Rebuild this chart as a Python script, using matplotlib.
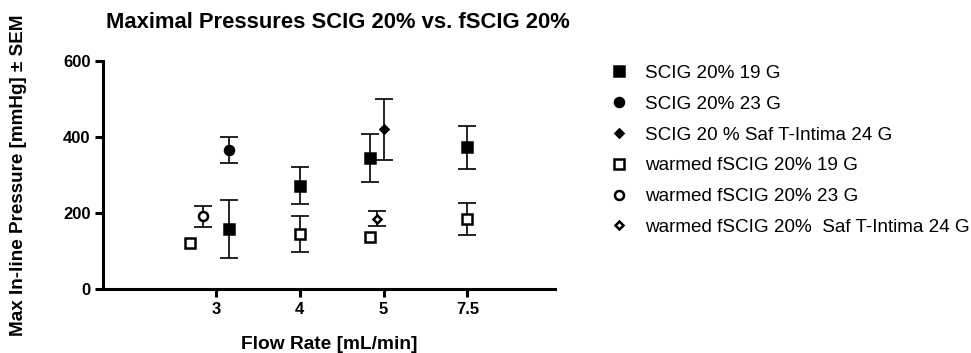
import numpy as np
import matplotlib
matplotlib.use("Agg")
import matplotlib.pyplot as plt
from matplotlib.lines import Line2D

plt.rcParams['font.family'] = ['Liberation Sans', 'DejaVu Sans']

# ---- data ----
categories = ["3", "4", "5", "7.5"]
nan = np.nan

scig19_mean = [159, 272, 345, 373]
scig19_sem = [76, 48, 63, 56]
scig23_mean = [366, nan, nan, nan]
scig23_sem = [33, nan, nan, nan]
scig24_mean = [nan, nan, 420, nan]
scig24_sem = [nan, nan, 80, nan]
fscig19_mean = [123, 145, 137, 185]
fscig19_sem = [0, 47, 0, 42]
fscig23_mean = [192, nan, nan, nan]
fscig23_sem = [27, nan, nan, nan]
fscig24_mean = [nan, nan, 186, nan]
fscig24_sem = [nan, nan, 20, nan]

labels = ["SCIG 20% 19 G", "SCIG 20% 23 G", "SCIG 20 % Saf T-Intima 24 G",
          "warmed fSCIG 20% 19 G", "warmed fSCIG 20% 23 G",
          "warmed fSCIG 20%  Saf T-Intima 24 G"]

# ---- layout / style (dodge offsets per category, in category units) ----
dodge = [
    [0.16, 0.0, -0.16, 0.0],
    [0.16, 0.0, 0.0, 0.0],
    [0.0, 0.0, 0.0, 0.0],
    [-0.31, 0.0, -0.16, 0.0],
    [-0.15, 0.0, 0.0, 0.0],
    [0.0, 0.0, -0.08, 0.0],
]
styles = [
    dict(marker='s', mfc='black', ms=6.5),
    dict(marker='o', mfc='black', ms=6.5),
    dict(marker='D', mfc='black', ms=4.5),
    dict(marker='s', mfc='white', ms=6.5),
    dict(marker='o', mfc='white', ms=6.5),
    dict(marker='D', mfc='white', ms=4.5),
]
means = [scig19_mean, scig23_mean, scig24_mean, fscig19_mean, fscig23_mean, fscig24_mean]
sems = [scig19_sem, scig23_sem, scig24_sem, fscig19_sem, fscig23_sem, fscig24_sem]

fig = plt.figure(figsize=(9.71, 3.53), dpi=100)
ax = fig.add_axes([0.106, 0.180, 0.466, 0.648])

pos = np.arange(len(categories))
handles = []
for m, s, d, st, lab in zip(means, sems, dodge, styles, labels):
    x = pos + np.array(d)
    m = np.array(m, dtype=float)
    s = np.array(s, dtype=float)
    ok = np.isfinite(s) & (s > 0)
    ax.errorbar(x[ok], m[ok], yerr=s[ok], fmt='none', ecolor='black', elinewidth=1.2,
                capsize=6.5, capthick=1.2, zorder=2)
    ax.plot(x, m, linestyle='none', marker=st['marker'], mfc=st['mfc'],
            mec='black', mew=1.8, ms=st['ms'], zorder=3)
    handles.append(Line2D([], [], linestyle='none', marker=st['marker'],
                          mfc=st['mfc'], mec='black', mew=1.8, ms=st['ms'], label=lab))

ax.set_xlim(-1.35, 4.05)
ax.set_ylim(0, 600)
ax.set_xticks(pos)
ax.set_xticklabels(categories)
ax.set_yticks([0, 200, 400, 600])
for sp in ['top', 'right']:
    ax.spines[sp].set_visible(False)
for sp in ['left', 'bottom']:
    ax.spines[sp].set_linewidth(2.2)
ax.tick_params(axis='both', width=2.2, length=6, labelsize=12, pad=3)
for t in ax.get_xticklabels() + ax.get_yticklabels():
    t.set_fontweight('bold')

ax.set_xlabel("Flow Rate [mL/min]", fontsize=13.8, fontweight='bold', labelpad=14)
ax.set_ylabel("Max In-line Pressure [mmHg] ± SEM", fontsize=13.6, fontweight='bold', labelpad=26)
fig.text(0.348, 0.935, "Maximal Pressures SCIG 20% vs. fSCIG 20%", fontsize=15.8,
         fontweight='bold', ha='center', va='center')

fig.legend(handles=handles, loc='upper left', bbox_to_anchor=(0.62, 0.838),
           frameon=False, fontsize=13.6, handlelength=1.0, handletextpad=0.9,
           labelspacing=0.72, borderaxespad=0)

fig.savefig("out.png", dpi=100)
